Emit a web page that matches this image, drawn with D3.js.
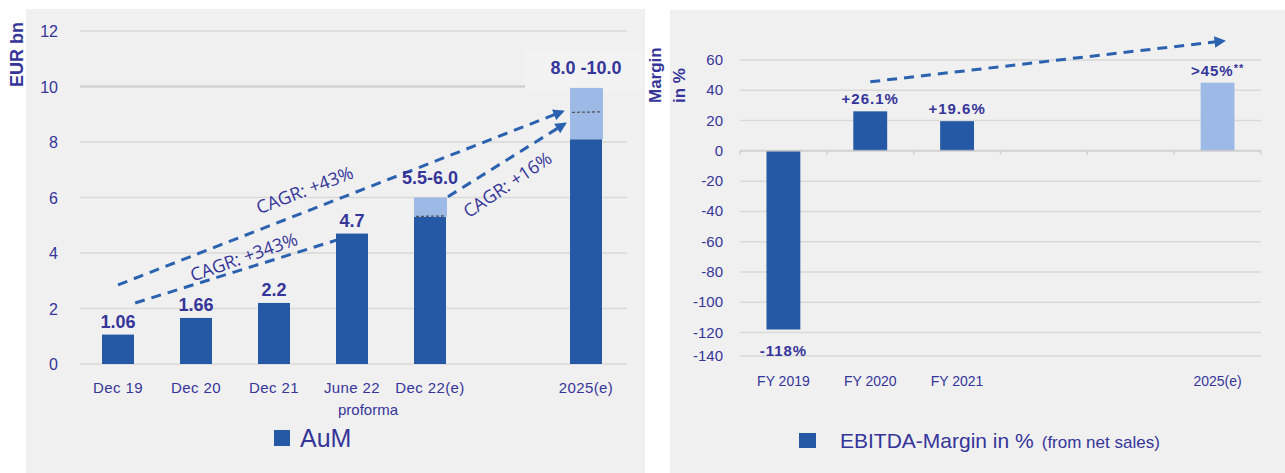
<!DOCTYPE html>
<meta charset="utf-8">
<style>
body {
  margin: 0;
  background: #fff;
}
text {
  font-family: "Liberation Sans", Arial, sans-serif;
  fill: #35359a;
}
.panel {
  fill: #f0f0f0;
}
.grid line {
  stroke: #d9d9d9;
  stroke-width: 1.5px;
}
.tick-label {
  font-size: 16px;
}
.bar {
  fill: #2559a5;
}
.bar-top {
  fill: #9dbae6;
}
.mid-line {
  stroke: #555;
  stroke-width: 1.3px;
  stroke-dasharray: 3,2;
}
.value {
  font-weight: bold;
  font-size: 18px;
  text-anchor: middle;
}
.trend {
  fill: none;
  stroke: #2b62b0;
  stroke-width: 3px;
  stroke-dasharray: 10,7;
}
.cagr {
  font-family: "Open Sans", sans-serif;
  font-size: 18px;
}
.axis-title {
  font-weight: bold;
  font-size: 17px;
}
</style>
<body>
<script src="https://d3js.org/d3.v7.min.js"></script>
<script>

var width = 1285,
    height = 473;

// AuM chart (left)
var aumCats = ["Dec 19", "Dec 20", "Dec 21", "June 22", "Dec 22(e)", "", "2025(e)"];
var aumBase = [1.06, 1.66, 2.2, 4.7, 5.3, null, 8.1];
var aumHigh = [null, null, null, null, 6.0, null, 9.95];
var aumMid = [null, null, null, null, 5.3, null, 9.05];
var aumLabels = ["1.06", "1.66", "2.2", "4.7", "5.5-6.0", "", "8.0 -10.0"];
var aumTicks = [0, 2, 4, 6, 8, 10, 12];
// trend arrows: [from index, from value, to index, to value, arrowhead]
var aumTrends = [
  [0.0, 2.85, 5.70, 9.10, true],
  [0.22, 2.2, 2.82, 4.48, false],
  [4.23, 6.03, 5.73, 8.66, true]
];
var cagrLabels = ["CAGR: +43%", "CAGR: +343%", "CAGR: +16%"];

// EBITDA margin chart (right)
var marginCats = ["FY 2019", "FY 2020", "FY 2021", "", "", "2025(e)"];
var marginVals = [-118, 26.1, 19.6, null, null, 45];
var marginTarget = [false, false, false, false, false, true];
var marginLabels = ["-118%", "+26.1%", "+19.6%", "", "", ">45%"];
var marginTicks = [-140, -120, -100, -80, -60, -40, -20, 0, 20, 40, 60];
var marginTrend = [1, 45.6, 5.07, 72.6];

var svg = d3.select("body").append("svg")
    .attr("width", width)
    .attr("height", height);

var defs = svg.append("defs");
defs.append("marker")
    .attr("id", "head")
    .attr("viewBox", "0 0 10 10")
    .attr("refX", 8).attr("refY", 5)
    .attr("markerWidth", 4.5).attr("markerHeight", 3.8)
    .attr("markerUnits", "strokeWidth")
    .attr("orient", "auto")
  .append("path")
    .attr("d", "M0,0L10,5L0,10Z")
    .attr("fill", "#2b62b0");

// ---------- left panel ----------
svg.append("rect").attr("class", "panel")
    .attr("x", 26).attr("y", 9).attr("width", 619).attr("height", 464);

var xL = d3.scaleBand()
    .domain(d3.range(aumCats.length))
    .range([79, 625])
    .paddingInner(0.59).paddingOuter(0.295);
var xLi = d3.scaleLinear().domain([0, 1]).range([xL(0) + xL.bandwidth() / 2, xL(1) + xL.bandwidth() / 2]);
var yL = d3.scaleLinear().domain([0, 12]).range([364, 31]);

var gL = svg.append("g").attr("class", "grid");
gL.selectAll("line").data(aumTicks).enter().append("line")
    .attr("x1", 80).attr("x2", 627)
    .attr("y1", yL).attr("y2", yL)
    .style("stroke-width", function(d) { return d === 10 ? 2.5 : 1.5; })
    .style("stroke", function(d) { return d === 10 ? "#d2d2d2" : null; });

svg.append("rect")
    .attr("x", 525).attr("y", 50).attr("width", 118).attr("height", 42)
    .attr("fill", "#f2f2f2");

svg.selectAll(".tl").data(aumTicks).enter().append("text")
    .attr("class", "tick-label")
    .attr("x", 58).attr("y", function(d) { return yL(d) + 6; })
    .attr("text-anchor", "end")
    .text(function(d) { return d; });

svg.append("text").attr("class", "axis-title")
    .style("font-size", "18px")
    .attr("transform", "translate(23,87) rotate(-90)")
    .text("EUR bn");

// trend lines behind bars
svg.selectAll(".trendL").data(aumTrends).enter().append("line")
    .attr("class", "trend")
    .attr("x1", function(d) { return xLi(d[0]); })
    .attr("y1", function(d) { return yL(d[1]); })
    .attr("x2", function(d) { return xLi(d[2]); })
    .attr("y2", function(d) { return yL(d[3]); })
    .attr("marker-end", function(d) { return d[4] ? "url(#head)" : null; });

var idx = d3.range(aumCats.length);
svg.selectAll(".bar").data(idx.filter(function(i) { return aumBase[i] != null; }))
  .enter().append("rect")
    .attr("class", "bar")
    .attr("x", function(i) { return xL(i); })
    .attr("width", xL.bandwidth())
    .attr("y", function(i) { return yL(aumBase[i]); })
    .attr("height", function(i) { return yL(0) - yL(aumBase[i]); });

svg.selectAll(".bar-top").data(idx.filter(function(i) { return aumHigh[i] != null; }))
  .enter().append("rect")
    .attr("class", "bar-top")
    .attr("x", function(i) { return xL(i); })
    .attr("width", xL.bandwidth() + 1)
    .attr("y", function(i) { return yL(aumHigh[i]); })
    .attr("height", function(i) { return yL(aumBase[i]) - yL(aumHigh[i]); });

svg.selectAll(".mid-line").data(idx.filter(function(i) { return aumMid[i] != null; }))
  .enter().append("line")
    .attr("class", "mid-line")
    .attr("x1", function(i) { return xL(i) + 2; })
    .attr("x2", function(i) { return xL(i) + xL.bandwidth() - 1; })
    .attr("y1", function(i) { return yL(aumMid[i]) - 0.5; })
    .attr("y2", function(i) { return yL(aumMid[i]) - 1; });

svg.selectAll(".valL").data(idx.filter(function(i) { return aumLabels[i]; }))
  .enter().append("text")
    .attr("class", "value")
    .attr("x", function(i) { return xL(i) + xL.bandwidth() / 2; })
    .attr("y", function(i) {
      var top = aumHigh[i] != null ? aumHigh[i] : aumBase[i];
      return yL(top) - (aumHigh[i] != null ? 14 : 7);
    })
    .text(function(i) { return aumLabels[i]; });

// CAGR labels along the arrows
var cagrPos = [[307, 196, -21], [246, 263, -19.5], [511, 190, -34]];
svg.selectAll(".cagr").data(cagrLabels).enter().append("text")
    .attr("class", "cagr")
    .attr("text-anchor", "middle")
    .attr("transform", function(d, i) {
      return "translate(" + cagrPos[i][0] + "," + cagrPos[i][1] + ") rotate(" + cagrPos[i][2] + ")";
    })
    .text(function(d) { return d; });

svg.selectAll(".xl").data(idx).enter().append("text")
    .attr("x", function(i) { return xL(i) + xL.bandwidth() / 2; })
    .attr("y", 393)
    .attr("text-anchor", "middle")
    .style("font-size", "15px")
    .style("letter-spacing", "0.4px")
    .text(function(i) { return aumCats[i]; });

svg.append("text")
    .attr("x", xL(3) + xL.bandwidth() / 2 + 16).attr("y", 415)
    .attr("text-anchor", "middle")
    .style("font-size", "15px")
    .text("proforma");

svg.append("rect").attr("class", "bar")
    .attr("x", 274).attr("y", 430).attr("width", 16).attr("height", 16);
svg.append("text")
    .attr("x", 300).attr("y", 447)
    .style("font-size", "25px")
    .text("AuM");

// ---------- right panel ----------
svg.append("rect").attr("class", "panel")
    .attr("x", 670).attr("y", 10).attr("width", 615).attr("height", 463);

var xR = d3.scaleBand()
    .domain(d3.range(marginCats.length))
    .range([740, 1261])
    .paddingInner(0.61).paddingOuter(0.305);
var xRi = d3.scaleLinear().domain([0, 1]).range([xR(0) + xR.bandwidth() / 2, xR(1) + xR.bandwidth() / 2]);
var yR = d3.scaleLinear().domain([-135.5, 60]).range([356, 60]);
var yRaxis = yR.copy().clamp(true);

var gR = svg.append("g").attr("class", "grid");
gR.selectAll("line").data(marginTicks.filter(function(d) { return d !== 0; })).enter().append("line")
    .attr("x1", 740).attr("x2", 1261)
    .attr("y1", yRaxis).attr("y2", yRaxis);

svg.selectAll(".tr").data(marginTicks).enter().append("text")
    .attr("class", "tick-label")
    .style("font-size", "15px")
    .attr("x", 723).attr("y", function(d) { return yRaxis(d) + 5; })
    .attr("text-anchor", "end")
    .text(function(d) { return d; });

svg.append("text").attr("class", "axis-title")
    .attr("transform", "translate(661,103) rotate(-90)")
    .text("Margin");
svg.append("text").attr("class", "axis-title")
    .attr("transform", "translate(685,103) rotate(-90)")
    .text("in %");

svg.append("line").attr("class", "trend")
    .attr("x1", xRi(marginTrend[0])).attr("y1", yR(marginTrend[1]))
    .attr("x2", xRi(marginTrend[2])).attr("y2", yR(marginTrend[3]))
    .attr("marker-end", "url(#head)");

var idxR = d3.range(marginCats.length).filter(function(i) { return marginVals[i] != null; });
svg.selectAll(".barR").data(idxR).enter().append("rect")
    .attr("class", function(i) { return marginTarget[i] ? "bar-top" : "bar"; })
    .attr("x", function(i) { return xR(i); })
    .attr("width", xR.bandwidth())
    .attr("y", function(i) { return yR(Math.max(0, marginVals[i])); })
    .attr("height", function(i) { return Math.abs(yR(marginVals[i]) - yR(0)); });

// zero axis with band ticks
var axisR = svg.append("g").attr("opacity", 0.75);
axisR.append("line")
    .attr("x1", 740).attr("x2", 1261)
    .attr("y1", yR(0)).attr("y2", yR(0))
    .attr("stroke", "#c8c8c8").attr("stroke-width", 2);
axisR.selectAll(".bt").data(d3.range(marginCats.length + 1)).enter().append("line")
    .attr("x1", function(i) { return 740 + i * xR.step(); })
    .attr("x2", function(i) { return 740 + i * xR.step(); })
    .attr("y1", yR(0)).attr("y2", yR(0) + 4)
    .attr("stroke", "#c8c8c8").attr("stroke-width", 1.5);

var valR = svg.selectAll(".valR").data(idxR).enter().append("text")
    .attr("class", "value")
    .style("font-size", "15px")
    .style("letter-spacing", "1px")
    .attr("x", function(i) { return xR(i) + xR.bandwidth() / 2; })
    .attr("y", function(i) {
      return marginVals[i] < 0 ? yR(marginVals[i]) + 26 : yR(marginVals[i]) - 7;
    })
    .text(function(i) { return marginLabels[i]; });
valR.filter(function(i) { return marginTarget[i]; })
  .append("tspan")
    .attr("dy", -4)
    .style("font-size", "11px")
    .text("**");

svg.selectAll(".xr").data(d3.range(marginCats.length)).enter().append("text")
    .attr("x", function(i) { return xR(i) + xR.bandwidth() / 2; })
    .attr("y", 386)
    .attr("text-anchor", "middle")
    .style("font-size", "14px")
    .text(function(i) { return marginCats[i]; });

svg.append("rect").attr("class", "bar")
    .attr("x", 799).attr("y", 433).attr("width", 17).attr("height", 15);
var leg = svg.append("text")
    .attr("x", 840).attr("y", 448)
    .style("font-size", "21px")
    .text("EBITDA-Margin in %");
leg.append("tspan")
    .attr("dx", 8)
    .style("font-size", "17px")
    .text("(from net sales)");

</script>
